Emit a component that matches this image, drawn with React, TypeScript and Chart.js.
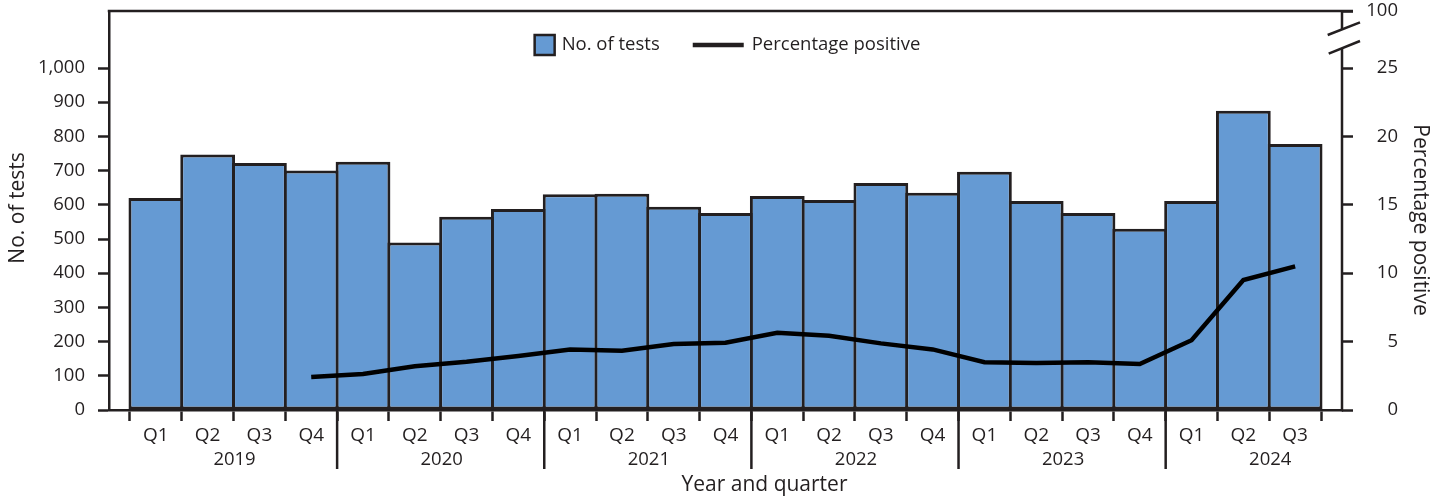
import React, { useEffect, useRef } from "react";
import { Chart, registerables } from "chart.js";

Chart.register(...registerables);

// ---------- data ----------
const quarterLabels = [
  "Q1", "Q2", "Q3", "Q4",
  "Q1", "Q2", "Q3", "Q4",
  "Q1", "Q2", "Q3", "Q4",
  "Q1", "Q2", "Q3", "Q4",
  "Q1", "Q2", "Q3", "Q4",
  "Q1", "Q2", "Q3",
];
const years = ["2019", "2020", "2021", "2022", "2023", "2024"];
const yearStartIndex = [0, 4, 8, 12, 16, 20];

const testCounts = [
  620, 747, 722, 700,
  726, 490, 565, 588,
  631, 632, 594, 576,
  626, 614, 664, 635,
  697, 611, 576, 530,
  611, 875, 778,
];
const percentPositive: (number | null)[] = [
  null, null, null, 2.41,
  2.63, 3.2, 3.53, 3.95,
  4.43, 4.34, 4.82, 4.92,
  5.65, 5.43, 4.87, 4.43,
  3.49, 3.44, 3.49, 3.36,
  5.1, 9.5, 10.5,
];
const leftTicks = [0, 100, 200, 300, 400, 500, 600, 700, 800, 900, 1000];
const rightTicks = [0, 5, 10, 15, 20, 25];
const rightBreakLabel = "100";

const legendBarLabel = "No. of tests";
const legendLineLabel = "Percentage positive";
const xTitle = "Year and quarter";
const yTitle = "No. of tests";
const y2Title = "Percentage positive";

// ---------- style ----------
const FONT = '"Open Sans", "Noto Sans", sans-serif';
const INK = "#231f20";
const BAR_FILL = "#659ad3";
const LW = 2.5;
const BAR_LW = 3;
const LEFT_MAX = 1166.7; // top of plot area on the count axis
const RIGHT_MAX = (LEFT_MAX * 25) / 1000; // keeps 25% aligned with 1,000

const decorPlugin = {
  id: "decor",
  afterDraw(chart: any) {
    const { ctx, chartArea: ca, scales } = chart;
    const xs = scales.x;
    ctx.save();
    ctx.strokeStyle = INK;
    ctx.lineWidth = LW;
    ctx.lineCap = "butt";
    const seg = (x1: number, y1: number, x2: number, y2: number) => {
      ctx.beginPath();
      ctx.moveTo(x1, y1);
      ctx.lineTo(x2, y2);
      ctx.stroke();
    };
    // top frame line
    seg(ca.left - LW / 2, ca.top, ca.right + 11, ca.top);
    // right axis with break
    seg(ca.right, ca.top, ca.right, ca.top + 18.3);
    seg(ca.right, ca.top + 37.3, ca.right, ca.bottom + LW / 2);
    seg(ca.right - 14.3, ca.top + 24, ca.right + 18, ca.top + 11.3);
    seg(ca.right - 13.3, ca.top + 42.7, ca.right + 18, ca.top + 30);

    // year separators
    for (let k = 1; k < yearStartIndex.length; k++) {
      const x = xs.getPixelForValue(yearStartIndex[k] - 0.5);
      seg(x, ca.bottom, x, ca.bottom + 59);
    }

    ctx.fillStyle = INK;
    ctx.font = `18.5px ${FONT}`;
    ctx.textAlign = "center";
    ctx.textBaseline = "middle";
    // year labels
    years.forEach((yr, j) => {
      const x = xs.getPixelForValue(yearStartIndex[j] + 1.5);
      ctx.fillText(yr, x + 1, ca.bottom + 50);
    });
    // x title
    ctx.font = `21px ${FONT}`;
    ctx.fillText(xTitle, (ca.left + ca.right) / 2 + 39, ca.bottom + 75);

    // y titles
    ctx.save();
    ctx.translate(18, 208);
    ctx.rotate(-Math.PI / 2);
    ctx.fillText(yTitle, 0, 0);
    ctx.restore();
    ctx.save();
    ctx.translate(1420, 220);
    ctx.rotate(Math.PI / 2);
    ctx.fillText(y2Title, 0, 0);
    ctx.restore();

    // legend
    ctx.font = `18.5px ${FONT}`;
    const w1 = ctx.measureText(legendBarLabel).width;
    const w2 = ctx.measureText(legendLineLabel).width;
    const total = 20 + 7 + w1 + 33 + 51 + 8 + w2;
    let lx = (ca.left + ca.right) / 2 - total / 2 + 2;
    const ly = 45;
    ctx.fillStyle = BAR_FILL;
    ctx.fillRect(lx, ly - 10, 20, 20);
    ctx.lineWidth = 2.5;
    ctx.strokeRect(lx, ly - 10, 20, 20);
    lx += 27;
    ctx.fillStyle = INK;
    ctx.textAlign = "left";
    ctx.fillText(legendBarLabel, lx, ly);
    lx += w1 + 33;
    ctx.lineWidth = 4.5;
    seg(lx, ly, lx + 51, ly);
    lx += 59;
    ctx.fillText(legendLineLabel, lx, ly);
    ctx.restore();
  },
};

export default function App() {
  const ref = useRef<HTMLCanvasElement>(null);

  useEffect(() => {
    if (!ref.current) return;
    const barData = testCounts.map((v, i) => ({ x: i, y: v }));
    const lineData = percentPositive
      .map((v, i) => (v === null ? null : { x: i, y: v }))
      .filter((p) => p !== null) as { x: number; y: number }[];

    const tickFont = { family: FONT, size: 18.5 };
    const noPadV = (s: any) => {
      s.paddingTop = 0;
      s.paddingBottom = 0;
    };

    const chart = new Chart(ref.current, {
      type: "bar",
      data: {
        datasets: [
          {
            type: "bar",
            label: legendBarLabel,
            data: barData,
            xAxisID: "x",
            yAxisID: "y",
            backgroundColor: BAR_FILL,
            borderColor: INK,
            borderWidth: BAR_LW,
            borderSkipped: false,
            inflateAmount: 0,
            barPercentage: 1 + BAR_LW / 51.8,
            categoryPercentage: 1,
            order: 1,
          } as any,
          {
            type: "line",
            label: legendLineLabel,
            data: lineData,
            xAxisID: "x",
            yAxisID: "y2",
            borderColor: "#000",
            borderWidth: 4.5,
            pointRadius: 0,
            tension: 0,
            fill: false,
            order: 0,
          } as any,
        ],
      },
      options: {
        responsive: false,
        animation: false,
        devicePixelRatio: 1,
        layout: { padding: { top: 11, left: 0, right: 52, bottom: 0 } },
        plugins: {
          legend: { display: false },
          tooltip: { enabled: false },
          title: { display: false },
        },
        scales: {
          x: {
            type: "linear",
            position: "bottom",
            min: -0.905,
            max: 22.905,
            offset: false,
            afterFit: (s: any) => {
              s.height = 92;
              s.paddingLeft = 0;
              s.paddingRight = 0;
            },
            afterBuildTicks: (s: any) => {
              s.ticks = quarterLabels.map((_, i) => ({ value: i }));
            },
            ticks: {
              autoSkip: false,
              maxRotation: 0,
              color: INK,
              font: { family: FONT, size: 19 },
              padding: 3,
              callback: (v: any) => quarterLabels[Math.round(v)] ?? "",
            },
            grid: {
              drawOnChartArea: false,
              drawTicks: true,
              tickLength: 11,
              tickWidth: LW,
              tickColor: INK,
            },
            border: { display: true, color: INK, width: LW },
          },
          y: {
            type: "linear",
            position: "left",
            min: 0,
            max: LEFT_MAX,
            afterFit: (s: any) => {
              s.width = 109;
              noPadV(s);
            },
            afterBuildTicks: (s: any) => {
              s.ticks = leftTicks.map((v) => ({ value: v }));
            },
            ticks: {
              color: INK,
              font: tickFont,
              padding: 13,
              callback: (v: any) => Number(v).toLocaleString("en-US"),
            },
            grid: {
              drawOnChartArea: false,
              drawTicks: true,
              tickLength: 11,
              tickWidth: LW,
              tickColor: INK,
            },
            border: { display: true, color: INK, width: LW },
          },
          y2: {
            type: "linear",
            position: "right",
            min: 0,
            max: RIGHT_MAX,
            afterFit: (s: any) => {
              s.width = 56;
              noPadV(s);
            },
            afterBuildTicks: (s: any) => {
              s.ticks = [
                ...rightTicks.map((v) => ({ value: v })),
                { value: RIGHT_MAX },
              ];
            },
            ticks: {
              color: INK,
              font: tickFont,
              crossAlign: "far",
              padding: 13,
              callback: (v: any) =>
                Math.abs(Number(v) - RIGHT_MAX) < 1e-6 ? rightBreakLabel : String(v),
            },
            grid: {
              drawOnChartArea: false,
              drawTicks: true,
              tickLength: 11,
              tickWidth: LW,
              tickColor: INK,
            },
            border: { display: false },
          },
        },
      } as any,
      plugins: [decorPlugin],
    });
    return () => chart.destroy();
  }, []);

  return (
    <div style={{ position: "fixed", left: 0, top: 0, width: 1450, height: 502, background: "#fff" }}>
      <canvas ref={ref} width={1450} height={502} style={{ width: 1450, height: 502, display: "block" }} />
    </div>
  );
}
